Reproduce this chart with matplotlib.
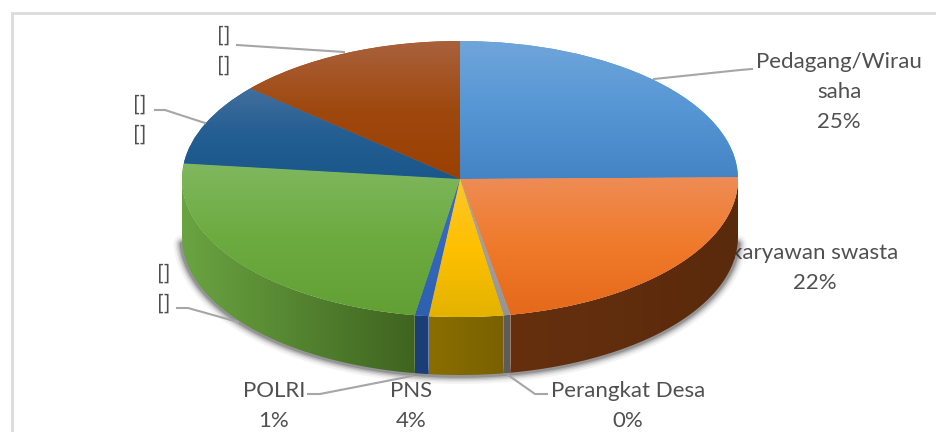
import matplotlib
matplotlib.use("Agg")
import matplotlib.pyplot as plt
import numpy as np
from matplotlib.colors import LinearSegmentedColormap
from matplotlib.lines import Line2D
from matplotlib.patches import Polygon, Rectangle

plt.rcParams['font.family'] = ['Lato', 'DejaVu Sans']

W, H = 937, 432

# slices, clockwise from the top
labels = ["Pedagang/Wirau\nsaha\n25%", "karyawan swasta\n22%", "Perangkat Desa\n0%",
          "PNS\n4%", "POLRI\n1%", "[]\n[]", "[]\n[]", "[]\n[]"]
values = [24.8, 22.3, 0.4, 4.3, 0.8, 24.2, 9.6, 13.6]

# top face gradient (top, middle, bottom)
top_colors = [("#6fa5da", "#5596d5", "#4484c4"),
              ("#ee8c55", "#f07a2a", "#e5691b"),
              ("#a8a8a8", "#a0a0a0", "#959595"),
              ("#fcc62b", "#ffc000", "#e3b300"),
              ("#3a6cc2", "#3467bd", "#2f60b0"),
              ("#80b75f", "#6cab3f", "#62a035"),
              ("#426f9e", "#245e92", "#1b578b"),
              ("#a9613c", "#9f480e", "#9a4102")]
# side wall colours, left to right
wall_colors = [("#2e5f8f", "#2e5f8f"),
               ("#66300e", "#5a2a0c"),
               ("#5c5c5c", "#5c5c5c"),
               ("#8a6e02", "#7a6100"),
               ("#1c3e78", "#1c3e78"),
               ("#6aa441", "#3f6420"),
               ("#1b4a73", "#1b4a73"),
               ("#7a3a0a", "#7a3a0a")]

# label centres and leader lines, in pixels
label_pos = [(839, 92), (815, 268), (628, 406), (411, 406), (274, 406),
             (164, 289), (140, 120), (224, 51)]
leaders = [[(654, 79), (740, 70), (752, 69)],
           [(508, 375), (535, 394), (547, 394)],
           [(412, 376), (320, 394), (308, 394)],
           [(238, 322), (188, 308), (177, 308)],
           [(205, 123), (165, 110), (155, 110)],
           [(344, 52), (237, 45)]]

CX, CY, RX, RY, DEPTH = 460, 179, 278, 138, 58

fig = plt.figure(figsize=(W / 100, H / 100), dpi=100)
ax = fig.add_axes([0, 0, 1, 1])

# frame of the chart
fig.add_artist(Rectangle((12 / W, -0.1), 1.1, 1.1 - 13.5 / H, transform=fig.transFigure,
                         fill=False, ec="#dcdcdc", lw=2))

wedges, _ = ax.pie(values, startangle=90, counterclock=False, colors=[c[1] for c in top_colors],
                   radius=1, wedgeprops=dict(lw=0))

d = DEPTH / RY

# soft shadow under the wall
t = np.radians(np.linspace(-3, -177, 200))
for lw, alpha in zip([13, 10, 8, 6, 4], [0.05, 0.07, 0.1, 0.15, 0.22]):
    ax.plot(np.cos(t), np.sin(t) - d, color="#202020", lw=lw, alpha=alpha, zorder=0.5,
            solid_capstyle="round")

# side walls of the front half
edges = np.concatenate([[0], np.cumsum(values)]) / np.sum(values) * 360
for i in range(len(values)):
    a0, a1 = max(edges[i], 90), min(edges[i + 1], 270)
    if a1 <= a0:
        continue
    th = np.radians(90 - np.linspace(a0, a1, 100))
    xs, ys = np.cos(th), np.sin(th)
    outline = Polygon(np.c_[np.r_[xs, xs[::-1]], np.r_[ys, ys[::-1] - d]], closed=True,
                      transform=ax.transData, fc="none", ec="none")
    ax.add_patch(outline)
    cmap = LinearSegmentedColormap.from_list("wall", wall_colors[i])
    im = ax.imshow(np.linspace(0, 1, 128).reshape(1, -1), cmap=cmap, aspect="auto",
                   extent=(xs.min(), xs.max(), (ys - d).min(), ys.max()), zorder=1)
    im.set_clip_path(outline)

# gradient on the top face
for wedge, cols in zip(wedges, top_colors):
    box = wedge.get_path().get_extents(wedge.get_transform() - ax.transData)
    cmap = LinearSegmentedColormap.from_list("face", cols)
    im = ax.imshow(np.linspace(0, 1, 128).reshape(-1, 1), cmap=cmap, aspect="auto", origin="upper",
                   extent=(box.x0, box.x1, box.y0, box.y1), zorder=2)
    im.set_clip_path(wedge)
    wedge.set_zorder(1.9)

# unit circle maps onto the ellipse of the pie
ax.set_xlim(-CX / RX, (W - CX) / RX)
ax.set_ylim((CY - H) / RY, CY / RY)
ax.set_aspect("auto")
ax.axis("off")

for pts in leaders:
    xs = [p[0] / W for p in pts]
    ys = [1 - p[1] / H for p in pts]
    fig.add_artist(Line2D(xs, ys, color="#a6a6a6", lw=1.5, transform=fig.transFigure, zorder=4))

for i, (text, pos) in enumerate(zip(labels, label_pos)):
    fig.text(pos[0] / W, 1 - pos[1] / H, text, ha="center", va="center", fontsize=16,
             color="#505050", linespacing=1.61, zorder=-1 if i == 1 else 5)

fig.savefig("out.png", dpi=100)
